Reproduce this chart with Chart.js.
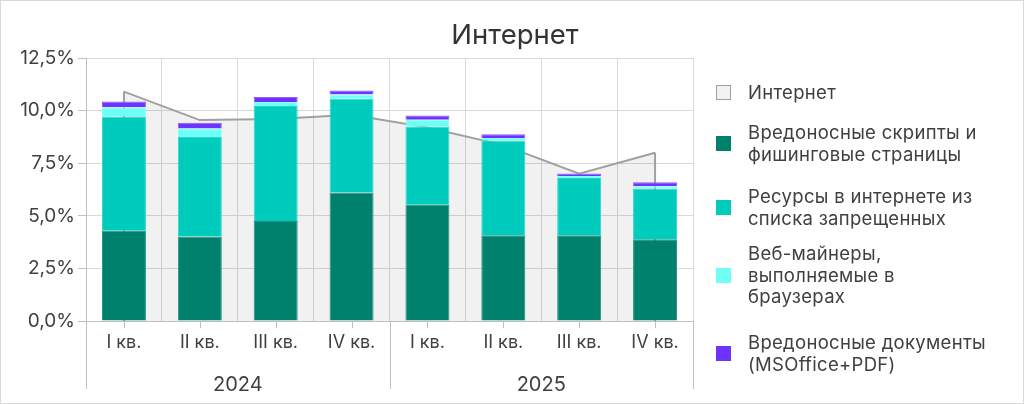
<!DOCTYPE html>
<html>
<head>
<meta charset="utf-8">
<script src="https://cdn.jsdelivr.net/npm/chart.js@4.4.1/dist/chart.umd.min.js"></script>
<style>
  body { margin: 0; background: #fff; }
  #wrap { position: relative; width: 1024px; height: 404px; font-family: Inter, "Noto Sans", sans-serif; }
  #frame { position: absolute; left: 0; top: 0; width: 1024px; height: 404px; box-sizing: border-box; border: 1px solid #d9d9d9; pointer-events: none; }
  #title { position: absolute; left: 0; top: 21px; width: 1024px; padding-left: 6px; box-sizing: border-box; text-align: center; font-size: 27.5px; line-height: 1; color: #333; }
  .item { position: absolute; left: 716px; display: flex; align-items: center; color: #404040; font-size: 18.5px; letter-spacing: 0.3px; line-height: 21.5px; white-space: pre-line; }
  .box { width: 15px; height: 15px; margin-right: 17px; flex: none; box-sizing: border-box; }
</style>
</head>
<body>
<div id="wrap">
  <canvas id="chart" width="1024" height="404"></canvas>
  <div id="title">Интернет</div>
  <div id="legend"></div>
  <div id="frame"></div>
</div>
<script>
const quarters = ["I кв.", "II кв.", "III кв.", "IV кв.", "I кв.", "II кв.", "III кв.", "IV кв."];
const years = ["2024", "2025"];
const yTicks = [0, 2.5, 5, 7.5, 10, 12.5];

const internet = [10.9, 9.55, 9.6, 9.8, 9.2, 8.36, 7.0, 8.0];
const scripts = [4.29, 4.02, 4.75, 6.11, 5.52, 4.08, 4.08, 3.89];
const banned = [5.43, 4.73, 5.47, 4.45, 3.71, 4.5, 2.72, 2.41];
const miners = [0.44, 0.4, 0.19, 0.2, 0.33, 0.12, 0.09, 0.1];
const docs = [0.27, 0.27, 0.24, 0.19, 0.21, 0.18, 0.12, 0.2];

const seriesNames = [
  "Интернет",
  "Вредоносные скрипты и\nфишинговые страницы",
  "Ресурсы в интернете из\nсписка запрещенных",
  "Веб-майнеры,\nвыполняемые в\nбраузерах",
  "Вредоносные документы\n(MSOffice+PDF)"
];

// legend item tops (layout only)
const legendTops = [82, 122, 186, 243, 332];

const gridColor = "#d9d9d9";
const axisColor = "#bfbfbf";
const textColor = "#404040";

// draws the area's side edges and the axis ticks / year separators
const extras = {
  id: "extras",
  afterDatasetDraw(chart, args) {
    if (args.index !== 0) return;
    const pts = args.meta.data;
    const y0 = chart.scales.y.getPixelForValue(0);
    const ctx = chart.ctx;
    ctx.save();
    ctx.strokeStyle = "#a0a0a0";
    ctx.lineWidth = 2;
    [pts[0], pts[pts.length - 1]].forEach(p => {
      ctx.beginPath();
      ctx.moveTo(p.x, p.y);
      ctx.lineTo(p.x, y0);
      ctx.stroke();
    });
    ctx.restore();
  },
  afterDraw(chart) {
    const x = chart.scales.x;
    const y0 = chart.scales.y.getPixelForValue(0);
    const ctx = chart.ctx;
    ctx.save();
    ctx.strokeStyle = axisColor;
    ctx.lineWidth = 1;
    quarters.forEach((q, i) => {
      const px = Math.round(x.getPixelForValue(i)) + 0.5;
      ctx.beginPath();
      ctx.moveTo(px, y0);
      ctx.lineTo(px, y0 + 7);
      ctx.stroke();
    });
    const mid = (x.getPixelForValue(3) + x.getPixelForValue(4)) / 2;
    [x.left, mid, x.right].forEach(px => {
      px = Math.round(px) + 0.5;
      ctx.beginPath();
      ctx.moveTo(px, y0);
      ctx.lineTo(px, y0 + 68);
      ctx.stroke();
    });
    ctx.restore();
  }
};

const barStyle = { stack: "bars", order: 1, borderWidth: 1, barPercentage: 0.58, categoryPercentage: 1 };

const chart = new Chart(document.getElementById("chart"), {
  type: "bar",
  data: {
    labels: quarters,
    datasets: [
      {
        type: "line",
        label: seriesNames[0],
        data: internet,
        stack: "line",
        order: 10,
        fill: "origin",
        backgroundColor: "rgba(0,0,0,0.055)",
        borderColor: "#a0a0a0",
        borderWidth: 2,
        pointRadius: 0,
        tension: 0
      },
      Object.assign({ label: seriesNames[1], data: scripts, backgroundColor: "#00816d", borderColor: "#1a9480" }, barStyle),
      Object.assign({ label: seriesNames[2], data: banned, backgroundColor: "#00ccbe", borderColor: "#2ad6ca" }, barStyle),
      Object.assign({ label: seriesNames[3], data: miners, backgroundColor: "#6ffff5", borderColor: "#8cfff8" }, barStyle),
      Object.assign({ label: seriesNames[4], data: docs, backgroundColor: "#6e33ff", borderColor: "#8a5cff" }, barStyle)
    ]
  },
  options: {
    responsive: false,
    animation: false,
    layout: { padding: { left: 0, right: 331, top: 58, bottom: 0 } },
    plugins: {
      legend: { display: false },
      tooltip: { enabled: false },
      title: { display: false }
    },
    scales: {
      x: {
        stacked: true,
        offset: true,
        grid: { offset: true, color: gridColor, drawTicks: false },
        border: { color: axisColor },
        ticks: { color: textColor, font: { family: "Inter", size: 18 }, padding: 11, maxRotation: 0, autoSkip: false },
        afterFit(s) { s.height = 42; }
      },
      x2: {
        type: "category",
        labels: years,
        position: "bottom",
        offset: true,
        grid: { display: false },
        border: { display: false },
        ticks: { color: textColor, font: { family: "Inter", size: 20 }, padding: 2 },
        afterFit(s) { s.height = 41; }
      },
      y: {
        stacked: true,
        min: 0,
        max: 12.5,
        afterBuildTicks(s) { s.ticks = yTicks.map(v => ({ value: v })); },
        grid: { color: gridColor, tickColor: axisColor, tickLength: 8 },
        border: { color: axisColor },
        ticks: {
          color: textColor,
          font: { family: "Inter", size: 19 },
          padding: 3,
          callback: v => v.toFixed(1).replace(".", ",") + "%"
        },
        afterFit(s) { s.width = 86; }
      }
    }
  },
  plugins: [extras]
});

// html legend built from the datasets
const legend = document.getElementById("legend");
chart.data.datasets.forEach((ds, i) => {
  const item = document.createElement("div");
  item.className = "item";
  item.style.top = legendTops[i] + "px";
  const box = document.createElement("span");
  box.className = "box";
  box.style.background = i === 0 ? "#f2f2f2" : ds.backgroundColor;
  if (i === 0) box.style.border = "1.5px solid #a0a0a0";
  const txt = document.createElement("span");
  txt.textContent = ds.label;
  item.appendChild(box);
  item.appendChild(txt);
  legend.appendChild(item);
});
</script>
</body>
</html>
